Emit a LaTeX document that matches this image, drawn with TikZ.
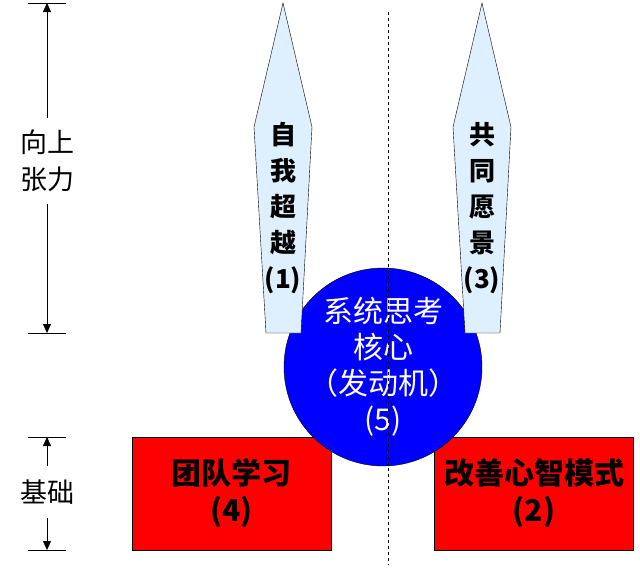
\documentclass[tikz,border=0pt]{standalone}
\usepackage{fontspec}
\setmainfont{Noto Sans CJK SC}
\usetikzlibrary{arrows.meta}
\definecolor{spearblue}{RGB}{222,240,253}
\tikzset{basebox/.style={draw,fill=red,minimum width=199pt,minimum height=113pt,align=center,font=\bfseries\fontsize{30}{37}\selectfont},
marktext/.style={align=center,inner ysep=12pt,font=\fontsize{27}{37}\selectfont}}
\newcommand{\spear}[3]{\draw[fill=spearblue] (#1,3)--({#1+29},127)--({#1+18},333)--({#1-17},333)--({#1-29},127)--cycle;
\node[font=\bfseries\fontsize{26}{36}\selectfont,align=center] (#2) at (#1,208){#3};}

\begin{document}
\begin{tikzpicture}[x=1pt,y=-1pt,>={Triangle[length=9pt,width=8pt]}]
\useasboundingbox (0,0) rectangle (640,570);
\node[basebox] (team) at (231.5,493.5){团队学习\\(4)};\node[basebox] (mind) at (534,493.5){改善心智模式\\(2)};
\node[draw,circle,fill=blue,minimum size=198pt,inner sep=0pt] (core) at (383,367){};
\node[text=white,align=center,font=\fontsize{30}{36}\selectfont] (coretext) at (core){系统思考\\核心\\（发动机）\\(5)};
\spear{283}{self}{自\\我\\超\\越\\(1)}\spear{482}{vision}{共\\同\\愿\\景\\(3)}
\draw[dashed] (388,12)--(388,565);
% dimension marks on the left
\coordinate (up1) at (47,3);\coordinate (up2) at (47,333);\coordinate (bs1) at (47,437);\coordinate (bs2) at (47,550);
\node[marktext] (pull) at (47,161){向上\\张力};\node[marktext,inner ysep=14pt] (basis) at (47,492){基础};
\foreach \c in {up1,up2,bs1,bs2}{\draw ([xshift=-19pt]\c)--([xshift=19pt]\c);}
\draw[->] (pull)--(up1);\draw[->] (pull)--(up2);\draw[->] (basis)--(bs1);\draw[->] (basis)--(bs2);
\end{tikzpicture}
\end{document}
